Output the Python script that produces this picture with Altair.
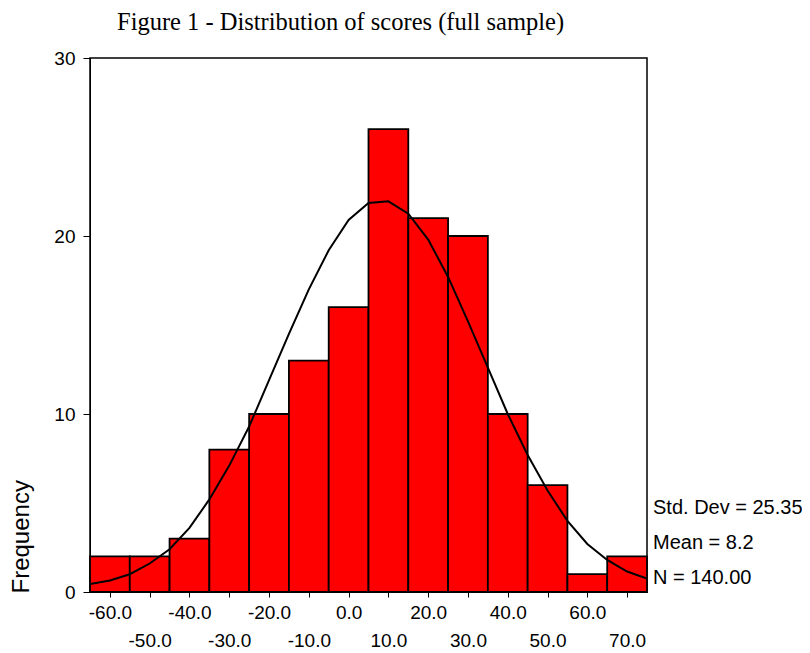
import altair as alt
import pandas as pd

# ---- data ----
bin_centers = [-60, -50, -40, -30, -20, -10, 0, 10, 20, 30, 40, 50, 60, 70]
frequencies = [2, 2, 3, 8, 10, 13, 16, 26, 21, 20, 10, 6, 1, 2]
bin_width = 10

curve_x = [-65, -60, -55, -50, -45, -40, -35, -30, -25, -20, -15, -10, -5, 0,
           5, 10, 15, 20, 25, 30, 35, 40, 45, 50, 55, 60, 65, 70, 75]
curve_y = [0.45, 0.65, 1.0, 1.6, 2.4, 3.6, 5.2, 7.1, 9.3, 11.9, 14.5, 17.0, 19.2, 20.9,
           21.85, 21.95, 21.25, 19.8, 17.7, 15.2, 12.6, 10.0, 7.7, 5.7, 4.0, 2.7, 1.8, 1.15, 0.75]

stat_names = ["Std. Dev", "Mean", "N"]
stat_values = ["25.35", "8.2", "140.00"]

title_text = "Figure 1 - Distribution of scores (full sample)"
y_title = "Frequency"
y_ticks = [0, 10, 20, 30]

bars_df = pd.DataFrame({"center": bin_centers, "count": frequencies})
curve_df = pd.DataFrame({"x": curve_x, "y": curve_y})
stats_df = pd.DataFrame({"t": ["\n".join(f"{n} = {v}" for n, v in zip(stat_names, stat_values))]})
title_df = pd.DataFrame({"t": [title_text]})

W, H = 557, 534

xscale = alt.Scale(domain=[-65, 75], nice=False, zero=False)
yscale = alt.Scale(domain=[0, 30], nice=False)

label_expr = (
    "(datum.value % 20 == 0) ? "
    "(datum.value < 0 ? '-' : '') + format(abs(datum.value), '.1f') : "
    "['', (datum.value < 0 ? '-' : '') + format(abs(datum.value), '.1f')]"
)

bars = alt.Chart(bars_df).transform_calculate(
    x0=f"datum.center - {bin_width/2}",
    x1=f"datum.center + {bin_width/2}",
).mark_rect(fill="#ff0000", stroke="black", strokeWidth=1.8).encode(
    x=alt.X("x0:Q", scale=xscale,
            axis=alt.Axis(values=bin_centers, labelExpr=label_expr, title=None,
                          tickSize=5, tickColor="black", domainColor="black",
                          labelOverlap=False, labelFlush=False, labelBound=False,
                          labelPadding=6, labelLineHeight=28, labelFontSize=19,
                          labelFont="Liberation Sans", labelColor="black",
                          grid=False)),
    x2="x1:Q",
    y=alt.Y("count:Q", scale=yscale,
            axis=alt.Axis(values=y_ticks, format="d", title=y_title,
                          tickSize=7, tickColor="black", domainColor="black",
                          labelPadding=8, labelFontSize=19, labelFont="Liberation Sans",
                          labelColor="black", grid=False,
                          titleFont="Liberation Sans", titleFontSize=24,
                          titleFontWeight="normal", titleColor="black",
                          titleAngle=270, titleAlign="left", titleBaseline="bottom",
                          titleX=-57, titleY=H + 1)),
    y2=alt.datum(0),
)

curve = alt.Chart(curve_df).mark_line(color="black", strokeWidth=2, clip=True).encode(
    x=alt.X("x:Q", scale=xscale),
    y=alt.Y("y:Q", scale=yscale),
)

stats = alt.Chart(stats_df).mark_text(
    align="left", baseline="top", fontSize=20, lineHeight=35, lineBreak="\n",
    font="Liberation Sans", color="black",
).encode(
    x=alt.value(W + 6),
    y=alt.value(440),
    text="t:N",
)

title = alt.Chart(title_df).mark_text(
    align="left", baseline="alphabetic", fontSize=24.5,
    font="Liberation Serif", color="black",
).encode(
    x=alt.value(27),
    y=alt.value(-28),
    text="t:N",
)

chart = alt.layer(bars, curve, stats, title).properties(
    width=W, height=H,
    autosize=alt.AutoSizeParams(type="none"),
    padding={"left": 82, "top": 50, "right": 155, "bottom": 60},
    background="white",
).configure_view(stroke="black", strokeWidth=1.5)

chart.save("out.html", embed_options={"renderer": "svg", "actions": False})
